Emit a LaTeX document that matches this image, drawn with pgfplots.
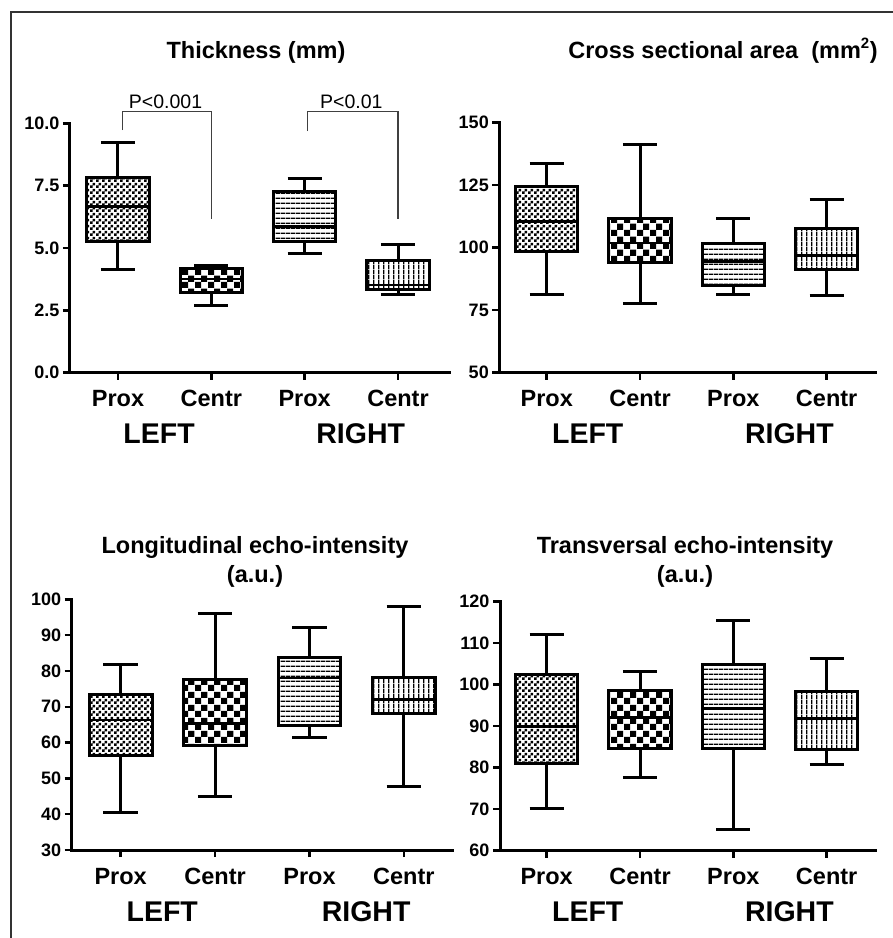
\documentclass[border=0pt]{standalone}
\usepackage{fontspec}
\setmainfont{Liberation Sans}
\usepackage{pgfplots}
\pgfplotsset{compat=1.18}
\usepgfplotslibrary{statistics}
\usetikzlibrary{patterns}

\pgfdeclarepatternformonly{finechk}{\pgfpointorigin}{\pgfpoint{6pt}{6pt}}{\pgfpoint{6pt}{6pt}}{%
 \pgfpathrectangle{\pgfpointorigin}{\pgfpoint{3pt}{3pt}}%
 \pgfpathrectangle{\pgfpoint{3pt}{3pt}}{\pgfpoint{3pt}{3pt}}%
 \pgfusepath{fill}}
\pgfdeclarepatternformonly{bigchk}{\pgfpointorigin}{\pgfpoint{13pt}{13pt}}{\pgfpoint{13pt}{13pt}}{%
 \pgfpathrectangle{\pgfpointorigin}{\pgfpoint{6.5pt}{6.5pt}}%
 \pgfpathrectangle{\pgfpoint{6.5pt}{6.5pt}}{\pgfpoint{6.5pt}{6.5pt}}%
 \pgfusepath{fill}}
\pgfdeclarepatternformonly{hlin}{\pgfpointorigin}{\pgfpoint{4.6pt}{4.6pt}}{\pgfpoint{4.6pt}{4.6pt}}{%
 \pgfpathrectangle{\pgfpointorigin}{\pgfpoint{4.6pt}{1.4pt}}%
 \pgfusepath{fill}}
\pgfdeclarepatternformonly{vlin}{\pgfpointorigin}{\pgfpoint{4.6pt}{4.6pt}}{\pgfpoint{4.6pt}{4.6pt}}{%
 \pgfpathrectangle{\pgfpointorigin}{\pgfpoint{1.4pt}{4.6pt}}%
 \pgfusepath{fill}}

% draw position, lower whisker, lower quartile, median, upper quartile, upper whisker, pattern
\newcommand{\bx}[7]{%
 \addplot[black, solid, line width=3pt, mark=none,
   boxplot prepared={draw position=#1, lower whisker=#2, lower quartile=#3,
     median=#4, upper quartile=#5, upper whisker=#6,
     box extend=0.665, whisker extend=0.365},
   boxplot/every box/.style={pattern=#7, pattern color=black},
   boxplot/every median/.style={line width=2.6pt}] coordinates {};}

\pgfplotsset{panel/.style={
  scale only axis, axis lines=left,
  axis line style={-, line width=3pt, line cap=rect, black},
  tick align=outside, major tick length=7pt,
  tick style={line width=2.5pt, black},
  clip=false, enlargelimits=false,
  boxplot/draw direction=y,
  xtick={1,2,3,4}, xticklabels={Prox,Centr,Prox,Centr},
  xticklabel style={font=\fontsize{23.5}{23.5}\selectfont\bfseries, anchor=base, yshift=-27pt},
  yticklabel={\pgfmathprintnumber{\tick}},
  /pgf/number format/assume math mode=true,
  yticklabel style={font=\fontsize{18}{18}\selectfont\bfseries},
  }}
\newcommand{\sidelabels}[1]{%
  \node[anchor=base, font=\fontsize{28.5}{28.5}\selectfont\bfseries] at (axis cs:1.44,#1) [yshift=-71pt] {LEFT};
  \node[anchor=base, font=\fontsize{28.5}{28.5}\selectfont\bfseries] at (axis cs:3.6,#1) [yshift=-71pt] {RIGHT};}

\begin{document}
\begin{tikzpicture}
\path[use as bounding box] (0pt,0pt) rectangle (893pt,-938pt);
\draw[line width=1.5pt, black!80] (10pt,-12pt) -- (893pt,-12pt);
\draw[line width=1.5pt, black!80] (11pt,-12pt) -- (11pt,-938pt);

\tikzset{ttl/.style={anchor=base, font=\fontsize{23.5}{23.5}\selectfont\bfseries}}
\node[ttl] at (256pt,-58pt) {Thickness (mm)};
\node[ttl] at (723pt,-58pt) {Cross sectional area\ \ (mm\textsuperscript{\fontsize{15}{15}\selectfont 2})};
\node[ttl] at (255pt,-553pt) {Longitudinal echo-intensity};
\node[ttl] at (255pt,-582pt) {(a.u.)};
\node[ttl] at (685pt,-553pt) {Transversal echo-intensity};
\node[ttl] at (685pt,-582pt) {(a.u.)};

% Panel 1: Thickness
\begin{axis}[panel, at={(70pt,-372.7pt)}, anchor=south west,
  width=380pt, height=249.4pt, xmin=0.486, xmax=4.557, ymin=0, ymax=10,
  ytick={0,2.5,5,7.5,10},
  /pgf/number format/.cd, fixed, fixed zerofill, precision=1]
\bx{1}{4.12}{5.25}{6.66}{7.82}{9.22}{finechk}
\bx{2}{2.71}{3.21}{3.76}{4.16}{4.28}{bigchk}
\bx{3}{4.79}{5.25}{5.86}{7.26}{7.79}{hlin}
\bx{4}{3.12}{3.34}{3.52}{4.49}{5.16}{vlin}
\draw[line width=1.3pt, black!75] (axis cs:1.05,9.73) -- (axis cs:1.05,10.47) -- (axis cs:2.0,10.47) -- (axis cs:2.0,6.15);
\draw[line width=1.3pt, black!75] (axis cs:3.03,9.69) -- (axis cs:3.03,10.47) -- (axis cs:4.0,10.47) -- (axis cs:4.0,6.15);
\node[anchor=base, font=\fontsize{19.5}{19.5}\selectfont] at (axis cs:1.51,10.6) {P<0.001};
\node[anchor=base, font=\fontsize{19.5}{19.5}\selectfont] at (axis cs:3.5,10.6) {P<0.01};
\sidelabels{0}
\end{axis}

% Panel 2: Cross sectional area
\begin{axis}[panel, at={(499.3pt,-372.7pt)}, anchor=south west,
  width=375.7pt, height=250pt, xmin=0.492, xmax=4.518, ymin=50, ymax=150,
  ytick={50,75,100,125,150}]
\bx{1}{81.1}{98.4}{110.4}{124.4}{133.5}{finechk}
\bx{2}{77.8}{94.2}{101.9}{111.6}{141.4}{bigchk}
\bx{3}{81.1}{84.7}{94.6}{101.8}{111.8}{hlin}
\bx{4}{80.7}{91.1}{97.0}{107.5}{119.1}{vlin}
\sidelabels{50}
\end{axis}

% Panel 3: Longitudinal echo-intensity
\begin{axis}[panel, at={(71.7pt,-850pt)}, anchor=south west,
  width=380.3pt, height=250.7pt, xmin=0.481, xmax=4.51, ymin=30, ymax=100,
  ytick={30,40,50,60,70,80,90,100}]
\bx{1}{40.4}{56.5}{66.3}{73.3}{81.7}{finechk}
\bx{2}{44.9}{59.3}{65.4}{77.7}{96.1}{bigchk}
\bx{3}{61.5}{64.7}{78.0}{83.8}{92.1}{hlin}
\bx{4}{47.7}{68.0}{72.1}{78.2}{98.0}{vlin}
\sidelabels{30}
\end{axis}

% Panel 4: Transversal echo-intensity
\begin{axis}[panel, at={(500pt,-850.7pt)}, anchor=south west,
  width=375pt, height=249pt, xmin=0.5, xmax=4.518, ymin=60, ymax=120,
  ytick={60,70,80,90,100,110,120}]
\bx{1}{70.2}{80.9}{89.9}{102.5}{112.2}{finechk}
\bx{2}{77.7}{84.7}{92.1}{98.7}{103.3}{bigchk}
\bx{3}{65.2}{84.7}{94.3}{104.9}{115.4}{hlin}
\bx{4}{80.7}{84.4}{91.8}{98.3}{106.2}{vlin}
\sidelabels{60}
\end{axis}
\end{tikzpicture}
\end{document}
